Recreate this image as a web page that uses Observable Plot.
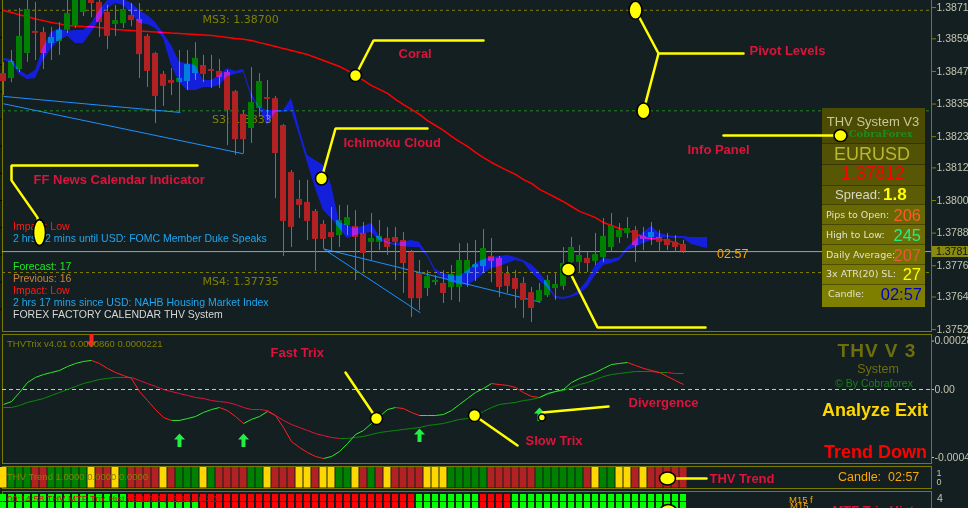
<!DOCTYPE html>
<html>
<head>
<meta charset="utf-8">
<script src="https://cdn.jsdelivr.net/npm/d3@7"></script>
<script src="https://cdn.jsdelivr.net/npm/@observablehq/plot@0.6"></script>
<style>
  html, body { margin: 0; padding: 0; background: #141f21; }
  #chart { position: relative; width: 968px; height: 508px; overflow: hidden; background: #141f21; }
  #chart > svg { position: absolute; left: 0; }
  .t { position: absolute; white-space: pre; line-height: 1; transform: translateY(-50%); font-family: "Liberation Sans", Arial, sans-serif; }
  .box { position: absolute; border: 1px solid #7a7a00; }
  #panel { position: absolute; left: 822px; top: 108px; width: 103px; height: 199px; overflow: hidden; }
  #panel .row { position: absolute; left: 0; width: 103px; box-sizing: border-box; border-top: 1px solid rgba(0,0,0,0.35); }
  #panel .row:first-child { border-top: none; }
</style>
</head>
<body>
<div id="chart"></div>
<script>
// EURUSD M15 candles, oldest to newest
const opens = [1.38467,1.38449,1.38482,1.38541,1.38622,1.38618,1.38578,1.38585,1.38626,1.38644,
1.38692,1.38736,1.38729,1.38692,1.38648,1.38651,1.38681,1.38666,1.38604,1.38541,
1.38464,1.38442,1.38434,1.38438,1.38467,1.38497,1.38482,1.38475,1.38471,1.38401,
1.38317,1.38265,1.38339,1.38379,1.38375,1.38276,1.38103,1.38004,1.37993,1.37960,
1.37912,1.37882,1.37871,1.37908,1.37904,1.37879,1.37846,1.37846,1.37860,1.37864,
1.37853,1.37809,1.37731,1.37676,1.37698,1.37695,1.37680,1.37680,1.37731,1.37753,
1.37757,1.37794,1.37787,1.37731,1.37713,1.37695,1.37661,1.37628,1.37650,1.37676,
1.37684,1.37772,1.37772,1.37787,1.37776,1.37790,1.37827,1.37864,1.37879,1.37890,
1.37868,1.37864,1.37864,1.37857,1.37846,1.37838];
const highs = [1.38508,1.38552,1.38707,1.38736,1.38729,1.38637,1.38637,1.38655,1.38736,1.38747,
1.38754,1.38751,1.38743,1.38718,1.38718,1.38736,1.38725,1.38725,1.38611,1.38545,
1.38475,1.38486,1.38552,1.38552,1.38581,1.38534,1.38534,1.38519,1.38478,1.38405,
1.38331,1.38489,1.38467,1.38442,1.38383,1.38280,1.38110,1.38074,1.38074,1.37967,
1.37926,1.37974,1.37982,1.37982,1.37963,1.37919,1.37952,1.37926,1.37901,1.37901,
1.37882,1.37816,1.37779,1.37742,1.37724,1.37742,1.37761,1.37842,1.37842,1.37853,
1.37893,1.37860,1.37794,1.37757,1.37742,1.37717,1.37680,1.37695,1.37724,1.37731,
1.37827,1.37864,1.37834,1.37809,1.37879,1.37934,1.37952,1.37915,1.37937,1.37904,
1.37901,1.37919,1.37890,1.37879,1.37871,1.37853];
const lows = [1.38386,1.38434,1.38471,1.38508,1.38515,1.38482,1.38515,1.38534,1.38615,1.38633,
1.38677,1.38673,1.38600,1.38556,1.38604,1.38633,1.38640,1.38449,1.38416,1.38283,
1.38346,1.38386,1.38320,1.38405,1.38442,1.38434,1.38412,1.38412,1.38202,1.38166,
1.38173,1.38210,1.38305,1.38294,1.38007,1.37794,1.37827,1.37934,1.37853,1.37739,
1.37823,1.37816,1.37827,1.37871,1.37706,1.37731,1.37779,1.37816,1.37798,1.37706,
1.37658,1.37569,1.37595,1.37647,1.37687,1.37621,1.37632,1.37625,1.37680,1.37702,
1.37731,1.37698,1.37643,1.37658,1.37603,1.37566,1.37551,1.37621,1.37643,1.37632,
1.37669,1.37742,1.37735,1.37735,1.37761,1.37772,1.37809,1.37842,1.37860,1.37772,
1.37816,1.37834,1.37809,1.37816,1.37809,1.37805];
const closes = [1.38438,1.38512,1.38604,1.38703,1.38615,1.38541,1.38600,1.38626,1.38688,1.38736,
1.38743,1.38725,1.38655,1.38604,1.38662,1.38703,1.38662,1.38537,1.38475,1.38383,
1.38420,1.38431,1.38449,1.38500,1.38523,1.38464,1.38475,1.38453,1.38331,1.38224,
1.38224,1.38361,1.38438,1.38372,1.38173,1.37923,1.37901,1.37982,1.37923,1.37857,
1.37857,1.37864,1.37926,1.37937,1.37864,1.37805,1.37860,1.37868,1.37827,1.37846,
1.37768,1.37639,1.37639,1.37720,1.37706,1.37658,1.37728,1.37779,1.37779,1.37764,
1.37823,1.37776,1.37680,1.37684,1.37673,1.37632,1.37603,1.37669,1.37706,1.37691,
1.37768,1.37827,1.37798,1.37768,1.37801,1.37868,1.37908,1.37890,1.37897,1.37834,
1.37857,1.37882,1.37846,1.37834,1.37827,1.37812];

// Coral trend line, one value per candle
const coral = [1.38699,1.38692,1.38683,1.38677,1.38668,1.38662,1.38655,1.38650,1.38644,1.38642,
1.38640,1.38639,1.38637,1.38633,1.38629,1.38627,1.38626,1.38624,1.38622,1.38620,
1.38618,1.38616,1.38615,1.38613,1.38611,1.38609,1.38607,1.38604,1.38600,1.38596,
1.38593,1.38589,1.38581,1.38574,1.38567,1.38559,1.38552,1.38545,1.38537,1.38526,
1.38515,1.38504,1.38493,1.38478,1.38460,1.38442,1.38423,1.38409,1.38394,1.38372,
1.38353,1.38335,1.38317,1.38294,1.38276,1.38258,1.38236,1.38217,1.38199,1.38177,
1.38158,1.38140,1.38125,1.38110,1.38096,1.38077,1.38063,1.38041,1.38026,1.38011,
1.37996,1.37978,1.37960,1.37949,1.37937,1.37919,1.37908,1.37897,1.37890,1.37879,
1.37864,1.37860,1.37857,1.37853,1.37845,1.37834];

// Ichimoku cloud edges (runs 3 bars past the last candle)
const cloudUpper = [1.38523,1.38519,1.38478,1.38460,1.38478,1.38563,1.38618,1.38633,1.38622,1.38626,
1.38626,1.38651,1.38699,1.38736,1.38743,1.38740,1.38725,1.38699,1.38681,1.38655,
1.38615,1.38570,1.38508,1.38504,1.38497,1.38442,1.38442,1.38460,1.38486,1.38475,
1.38482,1.38394,1.38342,1.38331,1.38331,1.38331,1.38375,1.38265,1.38166,1.38147,
1.38129,1.38055,1.37919,1.37908,1.37897,1.37904,1.37915,1.37868,1.37846,1.37842,
1.37846,1.37853,1.37846,1.37801,1.37746,1.37731,1.37724,1.37720,1.37742,1.37768,
1.37783,1.37790,1.37794,1.37798,1.37790,1.37779,1.37764,1.37735,1.37695,1.37647,
1.37643,1.37650,1.37669,1.37706,1.37761,1.37787,1.37783,1.37790,1.37827,1.37853,
1.37882,1.37904,1.37879,1.37871,1.37868,1.37868,1.37864,1.37864,1.37864];
const cloudLower = [1.38515,1.38508,1.38464,1.38445,1.38449,1.38515,1.38559,1.38589,1.38604,1.38578,
1.38578,1.38618,1.38662,1.38707,1.38725,1.38718,1.38688,1.38651,1.38648,1.38633,
1.38596,1.38497,1.38434,1.38405,1.38405,1.38416,1.38416,1.38423,1.38456,1.38464,
1.38471,1.38379,1.38339,1.38276,1.38324,1.38324,1.38331,1.38239,1.38140,1.38044,
1.37963,1.37934,1.37897,1.37860,1.37871,1.37879,1.37882,1.37853,1.37842,1.37834,
1.37831,1.37827,1.37827,1.37794,1.37735,1.37713,1.37698,1.37691,1.37687,1.37706,
1.37728,1.37750,1.37757,1.37768,1.37779,1.37772,1.37735,1.37706,1.37680,1.37639,
1.37636,1.37643,1.37654,1.37680,1.37724,1.37761,1.37768,1.37779,1.37816,1.37827,
1.37842,1.37853,1.37860,1.37864,1.37860,1.37860,1.37838,1.37831,1.37823];

// Pivot levels
const pivotNames = ["MS3", "S3", "MS4"];
const pivotPrices = [1.38700, 1.38330, 1.37735];
const pivotColors = ["#808000", "#1f8a1f", "#808000"];

// Trend lines drawn on the chart: [bar, price] → [bar, price]
const trendLines = [
  [[0, 1.38383], [22.1, 1.38324]],
  [[0, 1.38356], [30, 1.38172]],
  [[40, 1.37822], [52.1, 1.37587]],
  [[40, 1.37822], [67.1, 1.37626]]
];

const bid = 1.37812;
const axisMarker = 1.37810;
const priceTicks = [1.38710, 1.38595, 1.38475, 1.38355, 1.38235, 1.38120, 1.38000, 1.37880, 1.37760, 1.37645, 1.37525];
const candleTimer = "02:57";

// THV Trix: fast and slow lines
const trixFast = [-0.88e-4,-0.71e-4,-0.18e-4,0.41e-4,0.71e-4,0.88e-4,1.00e-4,1.12e-4,1.35e-4,1.53e-4,
1.65e-4,1.71e-4,1.53e-4,1.24e-4,1.00e-4,0.82e-4,0.65e-4,-0.12e-4,-0.65e-4,-1.18e-4,
-1.65e-4,-1.82e-4,-1.82e-4,-1.71e-4,-1.59e-4,-1.35e-4,-1.18e-4,-1.06e-4,-1.24e-4,-1.59e-4,
-2.00e-4,-1.76e-4,-1.59e-4,-1.29e-4,-1.53e-4,-2.24e-4,-3.06e-4,-3.41e-4,-3.71e-4,-3.94e-4,
-4.06e-4,-3.94e-4,-3.65e-4,-3.18e-4,-2.65e-4,-2.41e-4,-2.00e-4,-1.59e-4,-1.18e-4,-1.06e-4,
-1.12e-4,-1.35e-4,-1.53e-4,-1.53e-4,-1.53e-4,-1.47e-4,-1.24e-4,-0.88e-4,-0.53e-4,-0.18e-4,
0.06e-4,0.35e-4,0.29e-4,0.24e-4,0.12e-4,-0.18e-4,-0.41e-4,-0.47e-4,-0.24e-4,-0.12e-4,
0.00e-4,0.41e-4,0.65e-4,0.82e-4,1.00e-4,1.24e-4,1.47e-4,1.53e-4,1.59e-4,1.41e-4,
1.24e-4,1.12e-4,1.00e-4,0.76e-4,0.53e-4,0.29e-4];
const trixSlow = [-1.06e-4,-1.06e-4,-0.94e-4,-0.76e-4,-0.65e-4,-0.53e-4,-0.35e-4,-0.18e-4,0.00e-4,0.18e-4,
0.35e-4,0.47e-4,0.59e-4,0.65e-4,0.71e-4,0.71e-4,0.71e-4,0.53e-4,0.35e-4,0.18e-4,
0.00e-4,-0.12e-4,-0.24e-4,-0.35e-4,-0.47e-4,-0.53e-4,-0.65e-4,-0.71e-4,-0.76e-4,-0.88e-4,
-1.06e-4,-1.18e-4,-1.18e-4,-1.24e-4,-1.53e-4,-1.82e-4,-2.06e-4,-2.24e-4,-2.41e-4,-2.59e-4,
-2.71e-4,-2.82e-4,-2.88e-4,-2.88e-4,-2.82e-4,-2.76e-4,-2.65e-4,-2.53e-4,-2.47e-4,-2.41e-4,
-2.35e-4,-2.29e-4,-2.24e-4,-2.12e-4,-2.06e-4,-2.00e-4,-1.88e-4,-1.76e-4,-1.71e-4,-1.59e-4,
-1.29e-4,-1.06e-4,-0.88e-4,-0.82e-4,-0.76e-4,-0.65e-4,-0.59e-4,-0.47e-4,-0.29e-4,-0.12e-4,
-0.06e-4,0.12e-4,0.29e-4,0.41e-4,0.59e-4,0.76e-4,0.88e-4,0.94e-4,1.00e-4,1.06e-4,
1.06e-4,1.06e-4,1.00e-4,1.00e-4,0.94e-4,0.94e-4];
const trixBuyBars = [22, 30, 52, 67];
const trixBuyLevels = [-3.0e-4, -3.0e-4, -2.71e-4, -1.47e-4];
const trixSellBars = [11];
const trixSellLevels = [2.88e-4];
const trixTicks = [2.85e-4, 0, -4.0e-4];
const trixTickLabels = ["0.000285", "0.00", "-0.00040"];

// THV Trend state per bar: G up, R down, Y neutral
const trendStates = "YGGGRRGGGGGYRRYGRRRRYRGGGYGRRRRGGYRRRYYRYYGGYRGRYRRRRYYYGGGGGRRRRRRGGGGGGRYGGYYRYRRRRR".split("");
// MTF Trix histogram, two timeframe rows: G up, R down
const mtfUpper = "GGGGGGGGGGGGGGGGRRRRRRRRRRRRRRRRRRRRRRRRRRRRRRRRRRRRGGGGGGGGRRRRGGGGGGGGGGGGGGGGGGGGGG".split("");
const mtfLower = "GGGGGGGGGGGGGGGGGGGGGGGGGRRRRRRRRRRRRRRRRRRRRRRRRRRRGGGGGGGGRRRRGGGGGGGGGGGGGGGGGGGGGG".split("");

// ---------------------------------------------------------------------------
const sans = '"Liberation Sans", Arial, sans-serif';
const dejavu = '"DejaVu Sans", Verdana, sans-serif';
const chart = document.getElementById("chart");
const plotStyle = {background: "transparent", overflow: "visible", fontFamily: sans};
const xScale = {domain: [-0.125, 116], axis: null};
const frameMargins = {width: 968, marginLeft: 2, marginRight: 37};

function addText(str, x, y, css = {}, anchor = "start") {
  const d = document.createElement("div");
  d.className = "t";
  d.textContent = str;
  d.style.top = y + "px";
  if (anchor === "end") d.style.right = (968 - x) + "px";
  else if (anchor === "middle") { d.style.left = x + "px"; d.style.transform = "translate(-50%,-50%)"; }
  else d.style.left = x + "px";
  Object.assign(d.style, css);
  chart.appendChild(d);
  return d;
}
function addBox(left, top, w, h) {
  const d = document.createElement("div");
  d.className = "box";
  Object.assign(d.style, {left: left + "px", top: top + "px", width: w + "px", height: h + "px"});
  chart.appendChild(d);
}
function place(svg, top) {
  svg.style.top = top + "px";
  chart.appendChild(svg);
  return svg;
}
function ellipse(rx, ry) {
  const k = 0.5523;
  return {draw(c) {
    c.moveTo(rx, 0);
    c.bezierCurveTo(rx, ry * k, rx * k, ry, 0, ry);
    c.bezierCurveTo(-rx * k, ry, -rx, ry * k, -rx, 0);
    c.bezierCurveTo(-rx, -ry * k, -rx * k, -ry, 0, -ry);
    c.bezierCurveTo(rx * k, -ry, rx, -ry * k, rx, 0);
    c.closePath();
  }};
}
const arrowUp = {draw(c) {
  c.moveTo(0, -7); c.lineTo(5.5, -1); c.lineTo(2, -1); c.lineTo(2, 6.5);
  c.lineTo(-2, 6.5); c.lineTo(-2, -1); c.lineTo(-5.5, -1); c.closePath();
}};
const arrowDown = {draw(c) {
  c.moveTo(0, 7); c.lineTo(5.5, 1); c.lineTo(2, 1); c.lineTo(2, -6.5);
  c.lineTo(-2, -6.5); c.lineTo(-2, 1); c.lineTo(-5.5, 1); c.closePath();
}};
const yellow = "#ffff00";
const crimson = "#dc143c";
function calloutMarks(paths, circles, labels) {
  const pts = paths.flatMap((p, k) => p.map(([x, y]) => ({x, y, k})));
  return [
    Plot.line(pts, {x: "x", y: "y", z: "k", stroke: yellow, strokeWidth: 2.5, strokeLinejoin: "miter"}),
    ...circles.map(c => Plot.dot([c], {x: "x", y: "y", symbol: ellipse(c.rx, c.ry), fill: yellow, stroke: "#000", strokeWidth: 1.6})),
    Plot.text(labels, {x: "x", y: "y", text: "text", textAnchor: "start", lineAnchor: "middle",
      fill: crimson, fontWeight: "bold", fontSize: 13, fontFamily: sans})
  ];
}

// Panel frames
addBox(2, -2, 928, 332);
addBox(2, 334, 928, 128);
addBox(2, 466, 928, 21);
addBox(2, 491, 928, 30);

// ---------------------------- price window -------------------------------
const candles = opens.map((o, i) => ({i, o, h: highs[i], l: lows[i], c: closes[i]}));
const cloud = cloudUpper.map((u, i) => ({i, hi: u, lo: cloudLower[i]}));
const pivots = pivotNames.map((name, k) => ({name, price: pivotPrices[k], color: pivotColors[k]}));
const segs = trendLines.map(([[x1, y1], [x2, y2]]) => ({x1, y1, x2, y2}));
const priceY = {domain: [1.37518, 1.38736], label: null};
const mainOpts = {...frameMargins, height: 332, marginTop: 0, marginBottom: 1, x: xScale, y: priceY, style: plotStyle};

const main = Plot.plot({
  ...mainOpts,
  marks: [
    Plot.ruleY(pivots, {y: "price", stroke: "color", strokeDasharray: "3,3"}),
    Plot.text(pivots, {x: 34.4, y: "price", text: d => `${d.name}: ${d.price.toFixed(5)}`, textAnchor: "end",
      dy: 9, fill: "#808000", fontSize: 11, fontFamily: dejavu}),
    Plot.link(segs, {x1: "x1", y1: "y1", x2: "x2", y2: "y2", stroke: "#1e90ff"}),
    Plot.ruleY([bid], {stroke: "#98a4a8"}),
    Plot.line(coral, {x: (d, i) => i, y: d => d, stroke: "#ff0000"}),
    Plot.ruleX(candles, {x: "i", y1: "l", y2: "h", stroke: "#808000"}),
    Plot.rect(candles, {x1: d => d.i - 0.375, x2: d => d.i + 0.375, y1: "o", y2: "c",
      fill: d => d.c >= d.o ? "#008000" : "#b22222"}),
    Plot.areaY(cloud, {x: "i", y1: "lo", y2: "hi", fill: "#0000dc", mixBlendMode: "lighten"}),
    Plot.text([bid], {x: 89.2, y: d => d, text: () => candleTimer, textAnchor: "start", dy: 2,
      fill: "#ffa500", fontSize: 12.5, fontFamily: sans}),
    Plot.axisY(priceTicks, {anchor: "right", tickSize: 4, tickFormat: () => "", color: "#808000", label: null}),
    Plot.axisY(priceTicks, {anchor: "right", tickSize: 0, tickPadding: 5, tickFormat: d3.format(".5f"),
      color: "#c4c4b0", fontSize: 10.5, fontFamily: sans, label: null})
  ]
});
main.querySelectorAll('g[aria-label="area"]').forEach(g => g.style.mixBlendMode = "lighten");
place(main, 0);

// Current price marker on the price axis
{
  const yPx = main.scale("y").apply(axisMarker);
  const d = document.createElement("div");
  Object.assign(d.style, {position: "absolute", left: "932px", top: (yPx - 6) + "px", width: "40px", height: "11px",
    background: "#8a8a10", color: "#101010", font: "10.5px " + sans, lineHeight: "11px", paddingLeft: "4px"});
  d.textContent = axisMarker.toFixed(5);
  chart.appendChild(d);
}

// FF News calendar lines
const newsLines = [
  ["Impact: Low", 226, "#ff1a1a"],
  ["2 hrs 42 mins until USD: FOMC Member Duke Speaks", 238, "#1ea6f0"],
  ["Forecast: 17", 266, "#22e622"],
  ["Previous: 16", 278, "#c8843e"],
  ["Impact: Low", 290, "#ff1a1a"],
  ["2 hrs 17 mins since USD: NAHB Housing Market Index", 302, "#1ea6f0"],
  ["FOREX FACTORY CALENDAR THV System", 314, "#d6d6d6"]
];
newsLines.forEach(([s, y, c]) => addText(s, 13, y, {color: c, fontSize: "10.5px"}));

// Info panel
{
  const panel = document.createElement("div");
  panel.id = "panel";
  const rows = [[0, 35, "#4b4b04"], [35, 21, "#525206"], [56, 21, "#575706"], [77, 19, "#5c5c06"],
    [96, 20, "#686804"], [116, 20, "#6e6e04"], [136, 20, "#737302"], [156, 20, "#787802"], [176, 23, "#7e7e00"]];
  rows.forEach(([top, h, bg]) => {
    const r = document.createElement("div");
    r.className = "row";
    Object.assign(r.style, {top: top + "px", height: h + "px", background: bg});
    panel.appendChild(r);
  });
  chart.appendChild(panel);
  addText("THV System V3", 873, 121, {color: "#c8c898", fontSize: "13px"}, "middle");
  addText("© CobraForex", 874, 134, {color: "#1c8c1c", fontSize: "10px", fontFamily: '"DejaVu Serif", serif', fontWeight: "bold"}, "middle");
  addText("EURUSD", 872, 154, {color: "#b8b830", fontSize: "18px"}, "middle");
  addText(bid.toFixed(5), 873, 174, {color: "#ff0000", fontSize: "17.5px"}, "middle");
  addText("Spread:", 835, 194, {color: "#d8d8c8", fontSize: "13px"});
  addText("1.8", 883, 194, {color: "#ffff00", fontSize: "17px", fontWeight: "bold"});
  const stats = [["Pips to Open:", "206", 215, "#ff5a2a"], ["High to Low:", "245", 235, "#22ee88"],
    ["Daily Average:", "207", 255, "#e8583a"], ["3x ATR(20) SL:", "27", 274, "#ffff00"]];
  stats.forEach(([label, v, y, c]) => {
    addText(label, 826, y, {color: "#e2e2d2", fontSize: "9.5px", fontFamily: dejavu});
    addText(v, 921, y, {color: c, fontSize: "16.5px"}, "end");
  });
  addText("Candle:", 828, 294, {color: "#e2e2d2", fontSize: "9.5px", fontFamily: dejavu});
  addText(candleTimer, 922, 294, {color: "#0000cd", fontSize: "16.5px"}, "end");
}

// Annotation layer over the price window
const overlay = Plot.plot({
  ...mainOpts,
  marks: [
    ...calloutMarks(
      [
        [[44, coral[44]], [46.25, 1.38589], [60, 1.38589]],
        [[79, pivotPrices[0]], [81.875, 1.38541], [92.5, 1.38541]],
        [[80, pivotPrices[1]], [81.875, 1.38541]],
        [[90, 1.38239], [104.625, 1.38239]],
        [[39.75, 1.38081], [41.5, 1.38265], [53, 1.38265]],
        [[24.25, 1.38129], [1, 1.38129], [1, 1.38074], [4.25, 1.37937], [4.5, 1.37882]],
        [[70.625, 1.37746], [74.25, 1.37533], [87.75, 1.37533]]
      ],
      [
        {x: 44, y: coral[44], rx: 6, ry: 6},
        {x: 79, y: pivotPrices[0], rx: 6.5, ry: 9},
        {x: 80, y: pivotPrices[1], rx: 6.5, ry: 8},
        {x: 104.625, y: 1.38239, rx: 6.5, ry: 6},
        {x: 39.75, y: 1.38081, rx: 6, ry: 6.5},
        {x: 4.5, y: 1.37882, rx: 6, ry: 13},
        {x: 70.625, y: 1.37746, rx: 7, ry: 6.5}
      ],
      [
        {text: "Coral", x: 49.375, y: 1.38541},
        {text: "Pivot Levels", x: 93.25, y: 1.38552},
        {text: "Info Panel", x: 85.5, y: 1.38188},
        {text: "Ichimoku Cloud", x: 42.5, y: 1.38213},
        {text: "FF News Calendar Indicator", x: 3.75, y: 1.38077}
      ]
    )
  ]
});
place(overlay, 0);

// ---------------------------- THV Trix window ----------------------------
const toSegments = (values) => values.slice(1).map((v, k) => ({x1: k, x2: k + 1, y1: values[k], y2: v, up: v >= values[k]}));
const fastSegs = toSegments(trixFast);
const slowSegs = toSegments(trixSlow);
const buys = trixBuyBars.map((i, k) => ({i, v: trixBuyLevels[k]}));
const sells = trixSellBars.map((i, k) => ({i, v: trixSellLevels[k]}));
const tickText = new Map(trixTicks.map((v, k) => [v, trixTickLabels[k]]));

const trix = Plot.plot({
  ...frameMargins, height: 133, marginTop: 1, marginBottom: 3,
  x: xScale, y: {domain: [-4.353e-4, 3.235e-4], label: null}, style: plotStyle,
  marks: [
    Plot.ruleY([0], {stroke: "#c8c8c8", strokeDasharray: "4,3"}),
    Plot.link(slowSegs, {x1: "x1", y1: "y1", x2: "x2", y2: "y2", stroke: d => d.up ? "#0a8a0a" : "#e0143c"}),
    Plot.link(fastSegs, {x1: "x1", y1: "y1", x2: "x2", y2: "y2", stroke: d => d.up ? "#2ee82e" : "#ff2020"}),
    Plot.dot(buys, {x: "i", y: "v", symbol: arrowUp, fill: "#22ee44"}),
    Plot.dot(sells, {x: "i", y: "v", symbol: arrowDown, fill: "#ff2020"}),
    ...calloutMarks(
      [
        [[42.75, 1.0e-4], [46.625, -1.706e-4]],
        [[58.875, -1.529e-4], [64.25, -3.294e-4]],
        [[67.375, -1.353e-4], [75.625, -1.0e-4]]
      ],
      [
        {x: 46.625, y: -1.706e-4, rx: 6, ry: 6},
        {x: 58.875, y: -1.529e-4, rx: 6, ry: 6},
        {x: 67.3, y: -1.647e-4, rx: 3.5, ry: 3.5}
      ],
      [
        {text: "Fast Trix", x: 33.375, y: 2.176e-4},
        {text: "Slow Trix", x: 65.25, y: -3.0e-4},
        {text: "Divergence", x: 78.125, y: -0.765e-4}
      ]
    ),
    Plot.axisY(trixTicks, {anchor: "right", tickSize: 2, tickPadding: 1, tickFormat: d => tickText.get(d),
      color: "#c4c4b0", fontSize: 10.5, fontFamily: sans, label: null})
  ]
});
place(trix, 333);

addText("THVTrix v4.01 0.0000860 0.0000221", 7, 344, {color: "#808000", fontSize: "9.5px"});
addText("THV V 3", 877, 350, {color: "#6e6e0c", fontSize: "19px", fontWeight: "bold", letterSpacing: "1px"}, "middle");
addText("System", 878, 369, {color: "#6e6e0c", fontSize: "12.5px"}, "middle");
addText("© By Cobraforex", 874, 383, {color: "#1a801a", fontSize: "10.5px"}, "middle");
addText("Analyze Exit", 928, 410, {color: "#ffd700", fontSize: "18px", fontWeight: "bold"}, "end");
addText("Trend Down", 927, 452, {color: "#ff0000", fontSize: "18px", fontWeight: "bold"}, "end");

// ---------------------------- THV Trend strip ----------------------------
const trendColor = {G: "#008000", R: "#b22222", Y: "#ffd700"};
const trendCells = trendStates.map((s, i) => ({i, s}));
const trend = Plot.plot({
  ...frameMargins, height: 25, marginTop: 1, marginBottom: 1,
  x: xScale, y: {domain: [-0.778, 1.778], label: null}, style: plotStyle,
  marks: [
    Plot.rect(trendCells, {x1: d => d.i - 0.5, x2: d => d.i + 0.5, fill: d => trendColor[d.s],
      insetLeft: 0.5, insetRight: 0.5, insetTop: 1, insetBottom: 1.5}),
    ...calloutMarks([[[83, 0.444], [87.875, 0.444]]], [{x: 83, y: 0.444, rx: 8, ry: 6.5}],
      [{text: "THV Trend", x: 88.25, y: 0.444}]),
    Plot.axisY([0, 1], {anchor: "right", tickSize: 0, tickPadding: 5, color: "#c4c4b0", fontSize: 9,
      fontFamily: sans, label: null})
  ]
});
place(trend, 465);
addText("THV Trend 1.0000 0.0000 0.0000", 7, 477, {color: "#808000", fontSize: "9.5px"});
addText("Candle:  " + candleTimer, 838, 477, {color: "#ffa500", fontSize: "12.5px"});

// ---------------------------- MTF Trix histogram -------------------------
const mtfColor = {G: "#00ff00", R: "#ff0000"};
const mtfCells = [
  ...mtfUpper.map((s, i) => ({i, row: 1, s})),
  ...mtfLower.map((s, i) => ({i, row: 0, s}))
];
const mtf = Plot.plot({
  ...frameMargins, height: 20, marginTop: 4, marginBottom: 0,
  x: xScale, y: {domain: [0, 2], axis: null}, style: plotStyle,
  marks: [
    Plot.rect(mtfCells, {x1: d => d.i - 0.375, x2: d => d.i + 0.375, y1: "row", y2: d => d.row + 1,
      fill: d => mtfColor[d.s], insetBottom: 1}),
    ...calloutMarks([], [{x: 83.1, y: 0, rx: 8, ry: 6}], [{text: "MTF Trix Hist", x: 103.625, y: 0}])
  ]
});
place(mtf, 490);
addText("00:14:58 THV MTF Trix Hist v2.1.5.3 (15,15,30,30)", 7, 499, {color: "#cc1010", fontSize: "9.5px"});
addText("M15 f", 789, 500, {color: "#ffa500", fontSize: "9.5px"});
addText("M15", 790, 506, {color: "#ffa500", fontSize: "9.5px"});
addText("4", 937, 498, {color: "#c4c4b0", fontSize: "10.5px"});
</script>
</body>
</html>
